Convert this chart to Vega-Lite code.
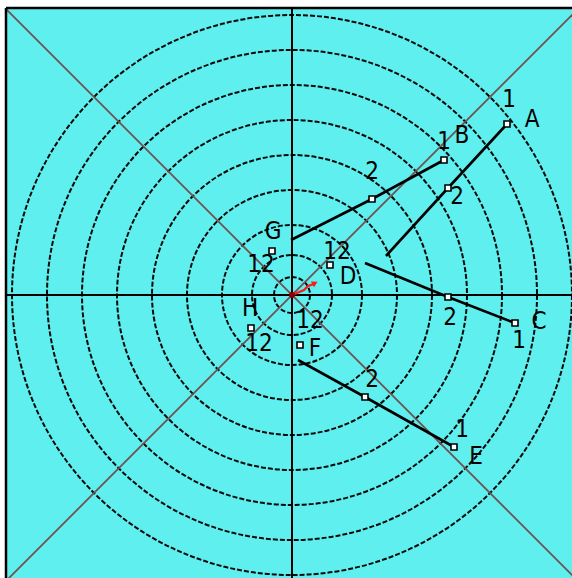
{
  "$schema": "https://vega.github.io/schema/vega-lite/v6.json",
  "width": 566,
  "height": 570,
  "autosize": {"type": "none"},
  "padding": {"left": 6, "top": 8, "right": 0, "bottom": 0},
  "background": "white",
  "config": {"view": {"fill": "#5fefef", "stroke": null}},
  "datasets": {
    "rings": [
      {"r": 18}, {"r": 40}, {"r": 70}, {"r": 105}, {"r": 140},
      {"r": 175}, {"r": 210}, {"r": 245}, {"r": 280}
    ],
    "diagonals": [
      {"x": -290, "y": 290, "x2": 290, "y2": -290},
      {"x": -290, "y": -290, "x2": 290, "y2": 290}
    ],
    "tracks": [
      {"track": "A", "seq": 0, "x": 215, "y": 171},
      {"track": "A", "seq": 1, "x": 156, "y": 107},
      {"track": "A", "seq": 2, "x": 94, "y": 39},
      {"track": "B", "seq": 0, "x": 152, "y": 135},
      {"track": "B", "seq": 1, "x": 80, "y": 96},
      {"track": "B", "seq": 2, "x": -1, "y": 55},
      {"track": "C", "seq": 0, "x": 223, "y": -28},
      {"track": "C", "seq": 1, "x": 156, "y": -2},
      {"track": "C", "seq": 2, "x": 73, "y": 32},
      {"track": "E", "seq": 0, "x": 162, "y": -152},
      {"track": "E", "seq": 1, "x": 73, "y": -102},
      {"track": "E", "seq": 2, "x": 6, "y": -65}
    ],
    "plots": [
      {"id": "A1", "x": 215, "y": 171},
      {"id": "A2", "x": 156, "y": 107},
      {"id": "B1", "x": 152, "y": 135},
      {"id": "B2", "x": 80, "y": 96},
      {"id": "C1", "x": 223, "y": -28},
      {"id": "C2", "x": 156, "y": -2},
      {"id": "D12", "x": 38, "y": 30},
      {"id": "E1", "x": 162, "y": -152},
      {"id": "E2", "x": 73, "y": -102},
      {"id": "F12", "x": 8, "y": -50},
      {"id": "G12", "x": -20, "y": 44},
      {"id": "H12", "x": -41, "y": -33}
    ],
    "labels": [
      {"text": "1", "x": 217, "y": 195},
      {"text": "A", "x": 240, "y": 175},
      {"text": "1", "x": 152, "y": 153},
      {"text": "B", "x": 170, "y": 159},
      {"text": "2", "x": 165, "y": 98},
      {"text": "2", "x": 80, "y": 123},
      {"text": "G", "x": -19, "y": 63},
      {"text": "12", "x": -31, "y": 30},
      {"text": "12", "x": 45, "y": 43},
      {"text": "D", "x": 56, "y": 18},
      {"text": "H", "x": -42, "y": -14},
      {"text": "12", "x": -33, "y": -49},
      {"text": "12", "x": 18, "y": -26},
      {"text": "F", "x": 23, "y": -54},
      {"text": "2", "x": 158, "y": -23},
      {"text": "C", "x": 247, "y": -27},
      {"text": "1", "x": 227, "y": -46},
      {"text": "2", "x": 80, "y": -85},
      {"text": "1", "x": 170, "y": -135},
      {"text": "E", "x": 184, "y": -162}
    ],
    "ownship": [
      {"seq": 0, "x": 0, "y": 0},
      {"seq": 1, "x": 12, "y": 5},
      {"seq": 2, "x": 16, "y": 9},
      {"seq": 3, "x": 22, "y": 11}
    ],
    "arrowhead": [{"x": 23, "y": 12}],
    "centre": [{"x": 0, "y": 0}],
    "border": [{"x": -286, "y": 287}]
  },
  "layer": [
    {
      "data": {"name": "rings"},
      "mark": {"type": "point", "shape": "circle", "filled": false, "stroke": "#0a0a0a", "strokeWidth": 2, "strokeDash": [5, 2], "opacity": 1, "clip": true},
      "encoding": {
        "x": {"datum": 0, "type": "quantitative", "scale": {"domain": [-286, 280], "nice": false, "zero": false}, "axis": null},
        "y": {"datum": 0, "type": "quantitative", "scale": {"domain": [-283, 287], "nice": false, "zero": false}, "axis": null},
        "size": {"field": "r", "type": "quantitative", "scale": {"type": "pow", "exponent": 2, "domain": [0, 286], "range": [0, 327184]}, "legend": null}
      }
    },
    {
      "data": {"name": "diagonals"},
      "mark": {"type": "rule", "stroke": "#6e5252", "strokeWidth": 1.8, "clip": true},
      "encoding": {
        "x": {"field": "x", "type": "quantitative"},
        "y": {"field": "y", "type": "quantitative"},
        "x2": {"field": "x2"},
        "y2": {"field": "y2"}
      }
    },
    {
      "data": {"name": "centre"},
      "mark": {"type": "rule", "stroke": "black", "strokeWidth": 2},
      "encoding": {"y": {"field": "y", "type": "quantitative"}}
    },
    {
      "data": {"name": "centre"},
      "mark": {"type": "rule", "stroke": "black", "strokeWidth": 2},
      "encoding": {"x": {"field": "x", "type": "quantitative"}}
    },
    {
      "data": {"name": "border"},
      "mark": {"type": "rule", "stroke": "black", "strokeWidth": 2.5},
      "encoding": {"x": {"field": "x", "type": "quantitative"}}
    },
    {
      "data": {"name": "border"},
      "mark": {"type": "rule", "stroke": "black", "strokeWidth": 2.5},
      "encoding": {"y": {"field": "y", "type": "quantitative"}}
    },
    {
      "data": {"name": "tracks"},
      "mark": {"type": "line", "stroke": "black"},
      "encoding": {
        "x": {"field": "x", "type": "quantitative"},
        "y": {"field": "y", "type": "quantitative"},
        "detail": {"field": "track"},
        "order": {"field": "seq"},
        "strokeWidth": {"field": "track", "type": "nominal", "scale": {"domain": ["A", "B", "C", "E"], "range": [2.6, 2.6, 1.2, 3.6]}, "legend": null}
      }
    },
    {
      "data": {"name": "ownship"},
      "mark": {"type": "line", "stroke": "#ff1a1a", "strokeWidth": 2.2},
      "encoding": {
        "x": {"field": "x", "type": "quantitative"},
        "y": {"field": "y", "type": "quantitative"},
        "order": {"field": "seq"}
      }
    },
    {
      "data": {"name": "arrowhead"},
      "mark": {"type": "point", "shape": "triangle-up", "filled": true, "color": "#ff1a1a", "size": 45, "angle": 62, "opacity": 1},
      "encoding": {
        "x": {"field": "x", "type": "quantitative"},
        "y": {"field": "y", "type": "quantitative"}
      }
    },
    {
      "data": {"name": "centre"},
      "mark": {"type": "point", "shape": "circle", "filled": true, "color": "#8a0000", "size": 35, "opacity": 1},
      "encoding": {
        "x": {"field": "x", "type": "quantitative"},
        "y": {"field": "y", "type": "quantitative"}
      }
    },
    {
      "data": {"name": "plots"},
      "mark": {"type": "point", "shape": "square", "filled": true, "fill": "white", "stroke": "black", "strokeWidth": 1.6, "size": 36, "opacity": 1, "cornerRadius": 2},
      "encoding": {
        "x": {"field": "x", "type": "quantitative"},
        "y": {"field": "y", "type": "quantitative"}
      }
    },
    {
      "data": {"name": "labels"},
      "mark": {"type": "text", "font": "DejaVu Sans Condensed, Liberation Sans", "fontSize": 24, "color": "black", "align": "center", "baseline": "middle"},
      "encoding": {
        "x": {"field": "x", "type": "quantitative"},
        "y": {"field": "y", "type": "quantitative"},
        "text": {"field": "text"}
      }
    }
  ]
}
